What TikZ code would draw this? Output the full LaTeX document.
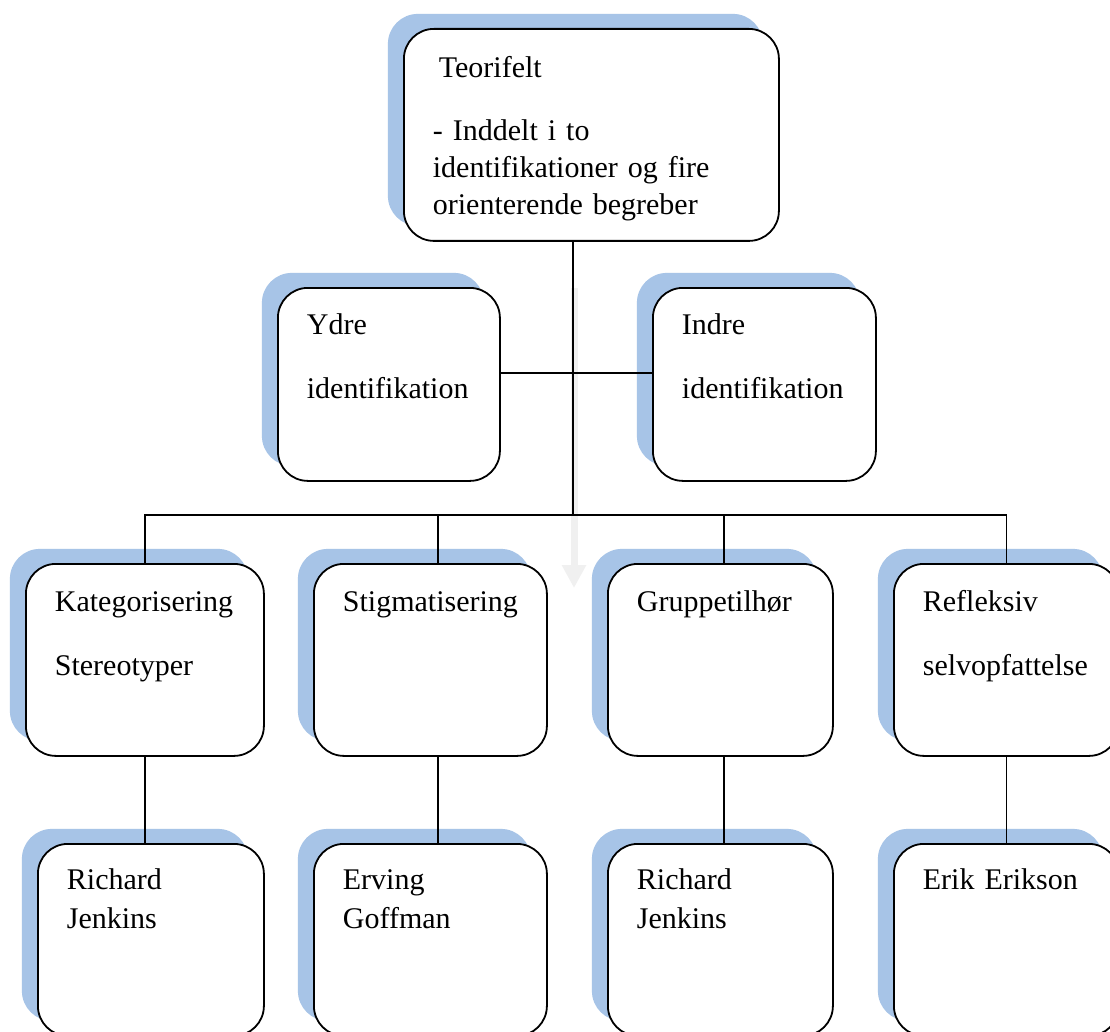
\documentclass[tikz,border=0pt]{standalone}
\usepackage{fontspec}
\setmainfont{Liberation Serif}
\usepackage{tikz}
\usetikzlibrary{arrows.meta, shadows}
\definecolor{shadowblue}{RGB}{167,196,231}
\definecolor{ghostgray}{RGB}{240,240,240}

\begin{document}
\begin{tikzpicture}[x=1pt, y=-1pt,
    box/.style={draw, line width=1.8pt, rounded corners=30pt, fill=white,
                anchor=north west, align=left, inner xsep=29pt, inner ysep=0pt,
                text height=48pt, text depth=144pt,
                font=\fontsize{30}{37}\selectfont,
                general shadow={fill=shadowblue, shadow xshift=-16pt,
                                shadow yshift=15pt}},
    link/.style={line width=1.8pt, black},
    ghost/.style={-{Triangle[width=23pt, length=23pt]}, line width=7pt, ghostgray}]
    \useasboundingbox (0,0) rectangle (1110,1032);
    \clip (0,0) rectangle (1110,1032);
    \fill[white] (0,0) rectangle (1110,1032);

    % faint arrow behind the tree
    \coordinate (gtop) at (574,288);
    \coordinate (gtip) at (574,588);
    \draw[ghost] (gtop) -- (gtip);

    \node[box, text width=317pt, text height=49pt, text depth=163pt] (teori) at (403,28)
        {\hspace*{6pt}Teorifelt\\[26pt]- Inddelt i to\\identifikationer og fire\\orienterende begreber};

    \node[box, text width=164pt, text height=47pt, text depth=146pt] (ydre) at (277,287)
        {Ydre\\[27pt]identifikation};
    \node[box, text width=165pt, text height=47pt, text depth=146pt] (indre) at (652,287)
        {Indre\\[27pt]identifikation};

    \node[box, text width=180pt] (kat) at (25,563) {Kategorisering\\[27pt]Stereotyper};
    \node[box, text width=175pt] (stig) at (313,563) {Stigmatisering};
    \node[box, text width=167pt] (grup) at (607,563) {Gruppetilhør};
    \node[box, text width=167pt] (refl) at (893,563) {Refleksiv\\[27pt]selvopfattelse};

    \node[box, text width=168pt, text height=46pt, text depth=146pt] (jenk1) at (37,843)
        {Richard\\[2pt]Jenkins};
    \node[box, text width=175pt, text height=46pt, text depth=146pt] (goff) at (313,843)
        {Erving\\[2pt]Goffman};
    \node[box, text width=167pt, text height=46pt, text depth=146pt] (jenk2) at (607,843)
        {Richard\\[2pt]Jenkins};
    \node[box, text width=167pt, text height=46pt, text depth=146pt] (erik) at (893,843)
        {Erik Erikson};

    % connectors
    \coordinate (hub) at (573,373);
    \coordinate (bus) at (573,515);
    \draw[link] (teori.south -| hub) -- (bus);
    \draw[link] (hub -| ydre.east) -- (hub -| indre.west);
    \draw[link] (kat.north) |- (bus) -| (refl.north);
    \draw[link] ([xshift=7.5pt]stig.north) -- ([xshift=7.5pt]stig.north |- bus);
    \draw[link] ([xshift=3.5pt]grup.north) -- ([xshift=3.5pt]grup.north |- bus);

    \draw[link] (kat.south) -- (kat.south |- jenk1.north);
    \draw[link] ([xshift=7.5pt]stig.south) -- ([xshift=7.5pt]stig.south |- goff.north);
    \draw[link] ([xshift=3.5pt]grup.south) -- ([xshift=3.5pt]grup.south |- jenk2.north);
    \draw[link] (refl.south) -- (erik.north);
\end{tikzpicture}
\end{document}
